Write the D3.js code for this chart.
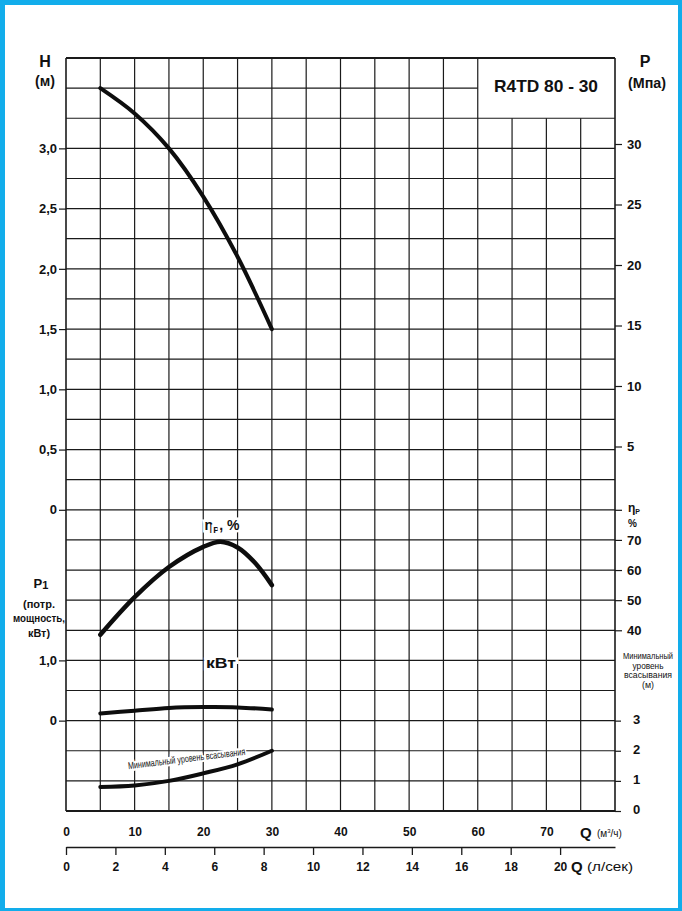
<!DOCTYPE html>
<html><head><meta charset="utf-8">
<script src="https://cdn.jsdelivr.net/npm/d3@7"></script>
<style>
body{margin:0;background:#fff}
text{font-family:"Liberation Sans",Arial,sans-serif;fill:#111}
</style>
</head><body><svg id="c" width="682" height="911"></svg>
<script>
// ---- data ----
const qHead  = [5, 10, 15, 20, 25, 30];             // Q, m3/h
const headH  = [3.5, 3.29, 3.0, 2.6, 2.1, 1.5];     // H, m
const qEff   = [5, 10, 15, 20, 22.5, 25, 27.5, 30];
const effPct = [38.5, 51, 61, 67.7, 69.4, 67.5, 62.5, 55];
const qPower = [5, 10, 15, 20, 25, 30];
const powerKW= [0.12, 0.165, 0.21, 0.225, 0.22, 0.185];
const qSuct  = [5, 10, 15, 20, 25, 30];
const suctM  = [0.8, 0.85, 1.0, 1.25, 1.55, 2.0];
const hTicks   = [0, 0.5, 1.0, 1.5, 2.0, 2.5, 3.0];
const pTicks   = [5, 10, 15, 20, 25, 30];
const etaTicks = [40, 50, 60, 70, 80];
const suctTicks= [0, 1, 2, 3];
const p1Ticks  = [0, 1.0];
const qTicks   = [0, 10, 20, 30, 40, 50, 60, 70];
const lsTicks  = [0, 2, 4, 6, 8, 10, 12, 14, 16, 18, 20];
const titleText = "R4TD 80 - 30";

const svg = d3.select("#c");
const W = 682, Hh = 911;
const L = 66, R = 615, T = 58, B = 811, ROWS = 25;
const comma = d => d === 0 ? "0" : d3.format(".1f")(d).replace(".", ",");
const FONT = '"Liberation Sans",Arial,sans-serif';

// frame
svg.append("rect").attr("width", W).attr("height", Hh).attr("fill", "#12ADEB");
svg.append("rect").attr("x", 5).attr("y", 5).attr("width", W - 9).attr("height", Hh - 8).attr("fill", "#fff");

// scales
const x = d3.scaleLinear([0, 80], [L, R]);
const xLs = d3.scaleLinear([0, 80 / 3.6], [L, R]);
const yRow = d3.scaleLinear([0, ROWS], [T, B]);
const yH = d3.scaleLinear([0, 3.75], [yRow(15), yRow(0)]);
const yP = d3.scaleLinear([0, 30], [507, 144]);
const yEta = d3.scaleLinear([0, 80], [yRow(23), yRow(15)]);
const ySuct = d3.scaleLinear([0, 3], [yRow(25), yRow(22)]);
const yP1 = d3.scaleLinear([0, 1], [yRow(22), yRow(20)]);

// grid
const grid = svg.append("g").attr("stroke", "#1a1a1a").attr("stroke-width", 1.2);
d3.range(0, 81, 5).forEach(q => {
  const top = (q > 60 && q < 80) ? yRow(2) : T;
  grid.append("line").attr("x1", x(q)).attr("x2", x(q)).attr("y1", top).attr("y2", B)
    .attr("stroke-width", (q === 0 || q === 80) ? 1.6 : 1.2);
});
d3.range(0, ROWS + 1).forEach(r => {
  const right = r === 1 ? x(60) : R;
  grid.append("line").attr("x1", L).attr("x2", right).attr("y1", yRow(r)).attr("y2", yRow(r))
    .attr("stroke-width", (r === 0 || r === ROWS) ? 1.8 : 1.2);
});

function styleAxis(g, size) {
  g.select(".domain").remove();
  g.selectAll(".tick line").attr("stroke", "#1a1a1a").attr("stroke-width", 1.2);
  g.selectAll(".tick text").attr("font-size", size).attr("font-weight", "bold").attr("fill", "#111")
    .attr("font-family", FONT);
}

// left axes
svg.append("g").attr("transform", `translate(${L},0)`)
  .call(d3.axisLeft(yH).tickValues(hTicks).tickSize(7).tickPadding(2).tickFormat(comma))
  .call(g => styleAxis(g, 13));
svg.append("g").attr("transform", `translate(${L},0)`)
  .call(d3.axisLeft(yP1).tickValues(p1Ticks).tickSize(7).tickPadding(2).tickFormat(comma))
  .call(g => styleAxis(g, 13));

// right axes
svg.append("g").attr("transform", `translate(${R},0)`)
  .call(d3.axisRight(yP).tickValues(pTicks).tickSize(7).tickPadding(5))
  .call(g => styleAxis(g, 13));
svg.append("g").attr("transform", `translate(${R},0)`)
  .call(d3.axisRight(yEta).tickValues(etaTicks).tickSize(7).tickPadding(5).tickFormat(d => d === 80 ? "" : d))
  .call(g => styleAxis(g, 13));
svg.append("g").attr("transform", `translate(${R},0)`)
  .call(d3.axisRight(ySuct).tickValues(suctTicks).tickSize(6).tickPadding(12).tickFormat(d3.format("d")))
  .call(g => styleAxis(g, 13))
  .call(g => g.selectAll(".tick text").attr("dy", "0.2em"));

// bottom axes
svg.append("g").attr("transform", `translate(0,${B})`)
  .call(d3.axisBottom(x).tickValues(qTicks).tickSize(0).tickPadding(16))
  .call(g => styleAxis(g, 12));
const ax2 = svg.append("g").attr("transform", `translate(0,847)`)
  .call(d3.axisBottom(xLs).tickValues(lsTicks).tickSize(8).tickSizeOuter(0).tickPadding(7));
ax2.selectAll(".tick line").attr("stroke", "#1a1a1a").attr("stroke-width", 1.3);
ax2.select(".domain").attr("stroke", "#1a1a1a").attr("stroke-width", 1.6);
ax2.selectAll(".tick text").attr("font-size", 12).attr("font-weight", "bold").attr("fill", "#111")
  .attr("font-family", FONT);

// curves
const line = d3.line().curve(d3.curveCatmullRom.alpha(0.5));
function curve(qs, vs, ys, w) {
  svg.append("path").attr("d", line(qs.map((q, i) => [x(q), ys(vs[i])])))
    .attr("fill", "none").attr("stroke", "#0d0d0d").attr("stroke-width", w)
    .attr("stroke-linecap", "round").attr("stroke-linejoin", "round");
}
curve(qHead, headH, yH, 4);
curve(qEff, effPct, yEta, 4.5);
curve(qPower, powerKW, yP1, 4);
curve(qSuct, suctM, ySuct, 4);

// labels
function label(xp, yp, txt, opts = {}) {
  const t = svg.append("text").attr("x", xp).attr("y", yp)
    .attr("text-anchor", opts.anchor || "middle")
    .attr("font-size", opts.size || 13).attr("font-weight", opts.weight || "bold");
  if (opts.transform) t.attr("transform", opts.transform);
  if (opts.length) t.attr("textLength", opts.length).attr("lengthAdjust", "spacingAndGlyphs");
  if (opts.halo) t.attr("stroke", "#fff").attr("stroke-width", opts.halo).attr("paint-order", "stroke");
  if (typeof txt === "string") t.text(txt); else txt(t);
  return t;
}

label(45, 67, "H", {size: 16});
label(45, 86, "(м)", {size: 14, length: 20});
label(645, 67, "P", {size: 16});
label(647, 88, "(Мпа)", {size: 14, length: 38});
label(546, 92, titleText, {size: 17, length: 104});

// efficiency label
label(222, 530, t => {
  t.append("tspan").text("η");
  t.append("tspan").attr("font-size", 9).attr("dy", 3).text("P");
  t.append("tspan").attr("dy", -3).text(", %");
}, {size: 14, halo: 5});
label(221, 668, "кВт", {size: 14, halo: 5, length: 30});

// P1 left
label(41, 588, t => {
  t.append("tspan").text("P");
  t.append("tspan").attr("font-size", 11).attr("dy", 1).text("1");
}, {size: 13});
label(39, 608, "(потр.", {size: 11, length: 32});
label(39, 622, "мощность,", {size: 11, length: 52});
label(39, 637, "кВт)", {size: 11, length: 22});

// right labels
label(628, 512, t => {
  t.append("tspan").text("η");
  t.append("tspan").attr("font-size", 7).attr("dy", 2).text("P");
}, {size: 12, anchor: "start"});
label(628, 527, "%", {size: 10, anchor: "start"});
const rightLines = ["Минимальный", "уровень", "всасывания", "(м)"];
const rightLens = [50, 31, 48, 12];
rightLines.forEach((s, i) =>
  label(648, 659 + i * 9.6, s, {size: 9, weight: "normal", length: rightLens[i]}));

// bottom unit labels
label(580, 838, "Q", {size: 15, anchor: "start"});
label(597, 837, t => {
  t.append("tspan").text("(м");
  t.append("tspan").attr("font-size", 6).attr("dy", -4).text("3");
  t.append("tspan").attr("dy", 4).text("/ч)");
}, {size: 10, anchor: "start", weight: "normal"});
label(571, 872, "Q", {size: 15, anchor: "start"});
label(587, 871, "(л/сек)", {size: 12, anchor: "start", weight: "normal", length: 46});

// rotated suction text
label(187, 762, "Минимальный уровень всасывания",
  {size: 10, weight: "normal", length: 118, halo: 4, transform: "rotate(-7 187 762)"});
</script></body></html>
